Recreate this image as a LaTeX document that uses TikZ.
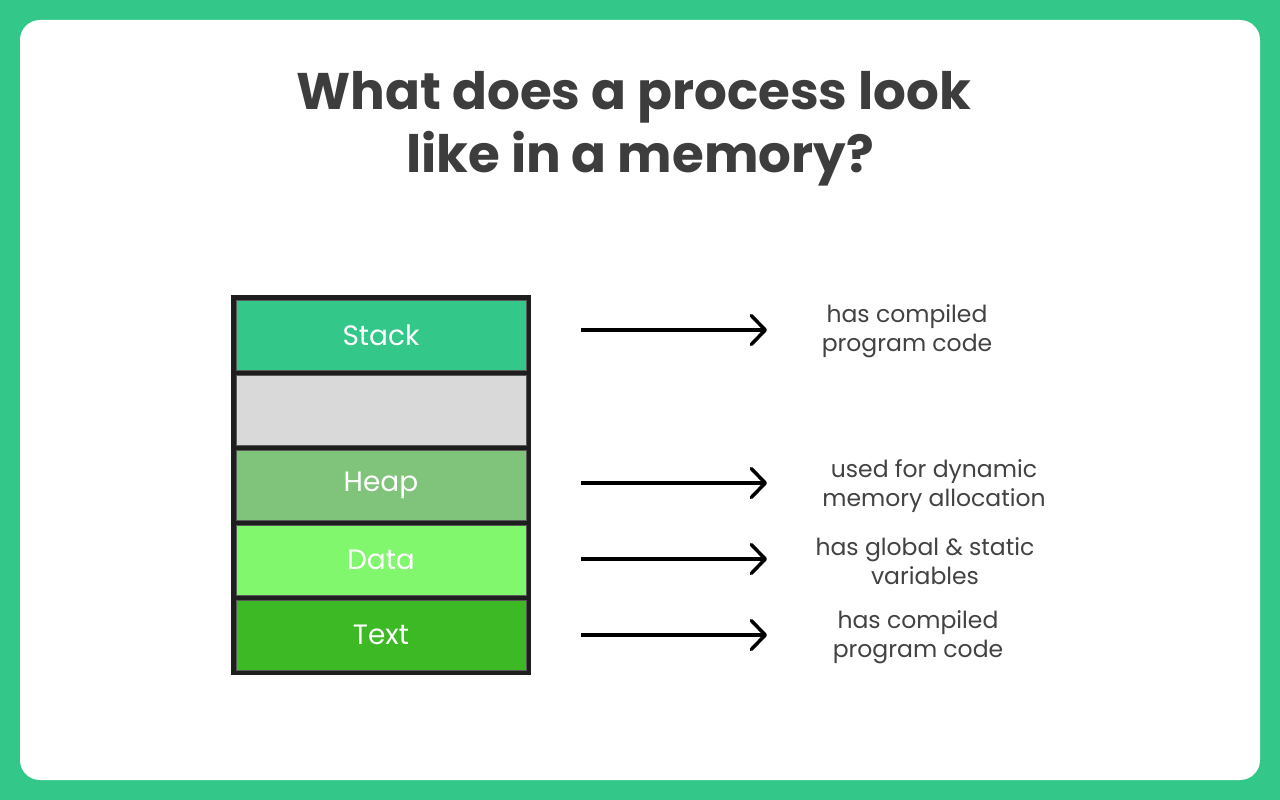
\documentclass[tikz,border=0pt]{standalone}
\usepackage{fontspec}
\setmainfont{Poppins}
\usetikzlibrary{arrows.meta}
\definecolor{brand}{HTML}{33C78A}
\definecolor{frame}{HTML}{1E1E1E}
\definecolor{cellgray}{HTML}{D9D9D9}
\definecolor{heapc}{HTML}{80C47C}
\definecolor{datac}{HTML}{80F76C}
\definecolor{textc}{HTML}{3CB924}
\definecolor{ink}{HTML}{3D3D3D}
\definecolor{lab}{HTML}{424242}
\tikzset{
  cell/.style={draw=gray!70!black, line width=1pt, minimum width=290pt, minimum height=70pt, inner sep=0pt, text=white, font=\fontsize{28}{32}\selectfont},
  desc/.style={align=center, text=lab, font=\fontsize{23.5}{29}\selectfont, inner sep=0pt},
  ptr/.style={line width=3.5pt, -{Straight Barb[length=14pt,width=29pt,round]}},
  ttl/.style={anchor=base, text=ink, font=\fontsize{51.5}{60}\selectfont\bfseries, inner sep=0pt}
}
\begin{document}
\begin{tikzpicture}[x=1pt,y=-1pt]
\useasboundingbox (0,0) rectangle (1280,800);
\fill[brand] (0,0) rectangle (1280,800);
\fill[white, rounded corners=20pt] (20,20) rectangle (1260,780);
\node[ttl] (t1) at (634,110) {What does a process look};
\node[ttl] (t2) at (640,172) {like in a memory?};
\fill[frame] (231,295) rectangle (531,675);
\node[cell, fill=brand] (stack) at (381,335) {Stack};
\node[cell, fill=cellgray] (free) at (381,410) {};
\node[cell, fill=heapc] (heap) at (381,485) {Heap};
\node[cell, fill=datac] (data) at (381,560) {Data};
\node[cell, fill=textc] (text) at (381,635) {Text};
\coordinate (s1) at (581,330); \coordinate (e1) at (767,330);
\coordinate (s2) at (581,483); \coordinate (e2) at (767,483);
\coordinate (s3) at (581,559); \coordinate (e3) at (767,559);
\coordinate (s4) at (581,635); \coordinate (e4) at (767,635);
\draw[ptr] (s1) -- (e1);
\draw[ptr] (s2) -- (e2);
\draw[ptr] (s3) -- (e3);
\draw[ptr] (s4) -- (e4);
\node[desc] (l1) at (907,331) {has compiled\\program code};
\node[desc] (l2) at (934,486) {used for dynamic\\memory allocation};
\node[desc] (l3) at (925,561) {has global \& static\\variables};
\node[desc] (l4) at (918,637) {has compiled\\program code};
\end{tikzpicture}
\end{document}
